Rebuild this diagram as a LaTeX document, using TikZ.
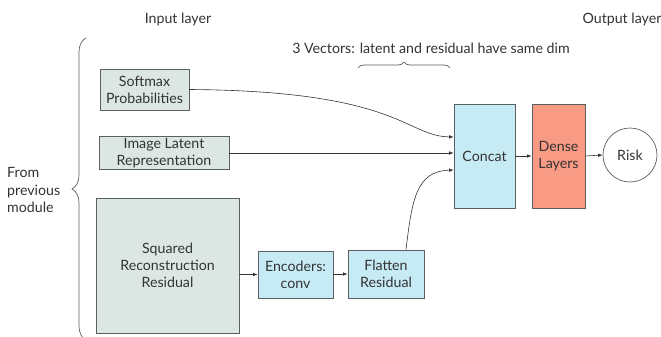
\documentclass[tikz,border=0pt]{standalone}
\usepackage{fontspec}
\setmainfont{Lato}
\usetikzlibrary{arrows.meta,decorations.pathreplacing,calc}
\definecolor{txt}{HTML}{333333}
\definecolor{edge}{HTML}{5A5F60}
\definecolor{inbox}{HTML}{DCE7E4}
\definecolor{bluebox}{HTML}{C6EBF4}
\definecolor{redbox}{HTML}{F99A84}
\tikzset{
  box/.style={draw=edge, line width=0.7pt, inner sep=0pt, align=center, text=txt, font=\fontsize{14.2}{16.8}\selectfont},
  inbox/.style={box, fill=inbox},
  bbox/.style={box, fill=bluebox},
  rbox/.style={box, fill=redbox},
  conn/.style={draw=txt, line width=0.6pt, -{Latex[length=4.5pt,width=3.5pt]}},
  lab/.style={text=txt, font=\fontsize{14.2}{17.5}\selectfont, inner sep=0pt},
  brc/.style={draw=edge, line width=0.7pt, decorate}
}
\begin{document}
\begin{tikzpicture}[x=1pt,y=-1pt]
\useasboundingbox (0,0) rectangle (661,337);
\node[lab] (inl) at (178,19) {Input layer};
\node[lab] (outl) at (622,19) {Output layer};
\node[lab] (vec) at (431,48) {3 Vectors: latent and residual have same dim};
\node[lab, align=left, anchor=west] (from) at (7,190) {From\\previous\\module};

\node[inbox, minimum width=89pt, minimum height=41pt] (soft) at (144.5,89.5) {Softmax\\Probabilities};
\node[inbox, minimum width=130pt, minimum height=33pt] (lat) at (164,153) {Image Latent\\Representation};
\node[inbox, minimum width=143pt, minimum height=135pt] (sq) at (167.5,265.5) {Squared\\Reconstruction\\Residual};
\node[bbox, minimum width=75pt, minimum height=47pt] (enc) at (295.5,274.5) {Encoders:\\conv};
\node[bbox, minimum width=76pt, minimum height=48pt] (flat) at (386,274) {Flatten\\Residual};
\node[bbox, minimum width=61pt, minimum height=104pt] (cat) at (484.5,156) {Concat};
\node[rbox, minimum width=53pt, minimum height=104pt] (dense) at (558.5,156) {Dense\\Layers};
\node[box, circle, minimum size=54pt, draw=edge] (risk) at (630,155) {Risk};

\coordinate (bt) at (86,38);
\coordinate (bb) at (86,340);
\draw[brc, decoration={brace, amplitude=14pt, aspect=0.5}] (bb) -- (bt);
\coordinate (vl) at (358,68);
\coordinate (vr) at (450,68);
\draw[brc, decoration={brace, amplitude=6pt}] (vl) -- (vr);

\draw[conn] (soft.east) .. controls (400,91) and (405,136) .. ([yshift=19pt]cat.west);
\draw[conn] (lat.east) -- (lat.east -| cat.west);
\draw[conn] ([xshift=20pt]flat.north) .. controls (412,200) and (416,171) .. ([yshift=-14pt]cat.west);
\draw[conn] (sq.east |- enc.west) -- (enc.west);
\draw[conn] (enc.east |- flat.west) -- (flat.west);
\draw[conn] (cat.east |- dense.west) -- (dense.west);
\draw[conn] (dense.east) -- (risk.west);
\end{tikzpicture}
\end{document}
